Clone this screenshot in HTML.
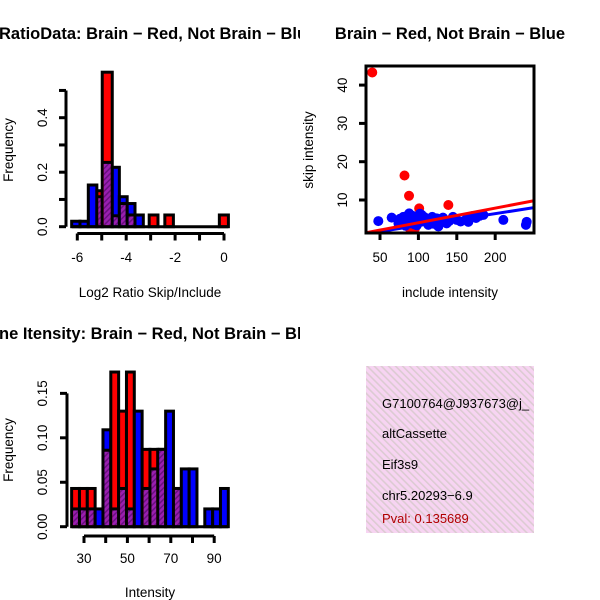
<!DOCTYPE html>
<html><head><meta charset="utf-8"><style>
html,body{margin:0;padding:0;background:#fff}
svg{display:block;font-family:"Liberation Sans",sans-serif}
</style></head><body>
<svg id="s" width="600" height="600" xmlns="http://www.w3.org/2000/svg">
<defs>
<pattern id="hatch" width="4" height="4" patternUnits="userSpaceOnUse" patternTransform="rotate(45)">
<rect width="4" height="4" fill="#9a1fb0"/><rect width="1.5" height="4" fill="#6a1080"/></pattern>
<pattern id="pink" width="5" height="5" patternUnits="userSpaceOnUse" patternTransform="rotate(-45)">
<rect width="5" height="5" fill="#f7d4f2"/><rect width="1.6" height="5" fill="#dccbd2"/></pattern>
<clipPath id="c1"><rect x="0" y="0" width="300" height="300"/></clipPath>
<clipPath id="c3"><rect x="0" y="300" width="300" height="300"/></clipPath>
<clipPath id="c2"><rect x="366" y="66" width="168" height="167"/></clipPath>
<clipPath id="c4"><rect x="366" y="366" width="168" height="167"/></clipPath>
</defs>
<g id="p1"></g>
<g id="p2"></g>
<g id="p3"></g>
<g id="p4">
<rect x="366" y="366" width="168" height="167" fill="url(#pink)"/>
<g clip-path="url(#c4)" font-size="13">
<text x="382" y="408">G7100764@J937673@j_</text>
<text x="382" y="438">altCassette</text>
<text x="382" y="469">Eif3s9</text>
<text x="382" y="500">chr5.20293−6.9</text>
<text x="382" y="523" fill="#b00000">Pval: 0.135689</text>
</g></g>
</svg>
<script>
// Histogram 1 data: bin edges (log2 ratio) and frequencies
const h1Edges=[-6.23,-5.89,-5.55,-5.20,-4.98,-4.57,-4.28,-3.96,-3.64,-3.30,-3.06,-2.70,-2.42,-2.07,-0.19,0.18];
const h1Red=[0,0,0,0.132,0.567,0.04,0.085,0.043,0,0,0.043,0,0.043,0,0.043];
const h1Blue=[0.02,0.02,0.153,0.11,0.236,0.218,0.11,0.085,0.043,0,0,0,0,0,0];
const h1XTicks=[-6,-5,-4,-3,-2,-1,0];
const h1XLabels=["-6","","-4","","-2","","0"];
const h1YTicks=[0,0.1,0.2,0.3,0.4,0.5];
const h1YLabels=["0.0","","0.2","","0.4",""];
// Histogram 3 data
const h3Start=24.3, h3Width=3.61;
const h3Red=[0.043,0.043,0.043,0,0.086,0.174,0.13,0.174,0,0.087,0.087,0.087,0,0.043,0,0,0,0,0,0];
const h3Blue=[0.02,0.02,0.02,0.02,0.109,0.02,0.043,0.02,0.13,0.043,0.065,0.087,0.13,0.043,0.065,0.065,0,0.02,0.02,0.043];
const h3XTicks=[30,40,50,60,70,80,90];
const h3XLabels=["30","","50","","70","","90"];
const h3YTicks=[0,0.05,0.10,0.15];
const h3YLabels=["0.00","0.05","0.10","0.15"];
// Scatter data
const redX=[39.9,81.9,87.8,101,139,95.5,88];
const redY=[43.3,16.4,11.1,7.8,8.7,2.6,2.8];
const blueX=[47.8,65.2,80.3,86.8,93.4,104.3,110.8,123.8,136.8,149.9,162.9,184.6,210.6,241,240,74,128,165,100,90,82,95,115,140,155,175,120,105,85,78,88,92,98,108,113,118,132,145,170,180,83,76,96,102,126];
const blueY=[4.5,5.4,5.6,6.1,5.2,6.1,4.3,5.2,3.9,4.8,5.2,6.1,4.8,4.3,3.5,3.9,4.3,4.3,4.3,4.3,4.8,3.6,5.0,4.5,4.4,5.3,3.8,4.9,5.8,4.6,6.5,5.9,3.4,5.5,3.5,5.6,5.4,5.6,5.8,5.9,3.3,5.1,4.0,6.4,3.1];
const redLine=[31.8,1.45,250.5,9.8];
const blueLine=[31.8,1.2,250.5,8.0];
const scXTicks=[50,100,150,200];
const scYTicks=[10,20,30,40];

const NS="http://www.w3.org/2000/svg";
const FS=13.5, TFS=16.5;
function mk(p,t,a){const e=document.createElementNS(NS,t);for(const k in a)e.setAttribute(k,a[k]);p.appendChild(e);return e;}
function measure(str){const s=document.getElementById('s');const t=mk(s,'text',{'font-size':TFS,'font-weight':'bold'});t.textContent=str;const w=t.getComputedTextLength();s.removeChild(t);return w;}

function hist(g,bins,red,blue,sx,sy,name){
  bins.forEach((b,i)=>{
    const x0=sx(b[0]),x1=sx(b[1]);const r=red[i],bl=blue[i];
    if(r===0&&bl===0)return;
    const hi=Math.max(r,bl),lo=Math.min(r,bl);
    const top=mk(g,'rect',{x:x0,y:sy(hi),width:x1-x0,height:sy(0)-sy(hi),fill:r>bl?'#ff0000':'#0000ff',stroke:'#000','stroke-width':3});
    
    
    if(lo>0){const p=mk(g,'rect',{x:x0+1.5,y:sy(lo),width:x1-x0-3,height:sy(0)-sy(lo)-1.5,fill:'url(#hatch)'});
      
      
      mk(g,'line',{x1:x0,x2:x1,y1:sy(lo),y2:sy(lo),stroke:'#000','stroke-width':3});}
  });
}
function axes(g,xt,xl,yt,yl,sx,sy,xAxY,yAxX,tl_y,ytlx){
  mk(g,'line',{x1:sx(xt[0]),x2:sx(xt[xt.length-1]),y1:xAxY,y2:xAxY,stroke:'#000','stroke-width':3});
  xt.forEach((v,i)=>{mk(g,'line',{x1:sx(v),x2:sx(v),y1:xAxY,y2:xAxY+7,stroke:'#000','stroke-width':3});
    if(xl[i]){const t=mk(g,'text',{x:sx(v),y:tl_y,'text-anchor':'middle','font-size':FS});t.textContent=xl[i];
      }});
  mk(g,'line',{x1:yAxX,x2:yAxX,y1:sy(yt[0]),y2:sy(yt[yt.length-1]),stroke:'#000','stroke-width':3});
  yt.forEach((v,i)=>{mk(g,'line',{x1:yAxX-7,x2:yAxX,y1:sy(v),y2:sy(v),stroke:'#000','stroke-width':3});
    if(yl[i]){const t=mk(g,'text',{x:ytlx,y:sy(v),'text-anchor':'middle','font-size':FS,transform:`rotate(-90 ${ytlx} ${sy(v)})`});t.textContent=yl[i];
      }});
}
// Panel 1
{const g=document.getElementById('p1');
 const sx=v=>77.3+(v+6)*24.45, sy=v=>226.7-v*272.5;
 const bins=h1Edges.slice(0,-1).map((e,i)=>[e,h1Edges[i+1]]);
 hist(g,bins,h1Red,h1Blue,sx,sy,'ratio');
 mk(g,'line',{x1:sx(-6.23),x2:sx(0.18),y1:226.7,y2:226.7,stroke:'#000','stroke-width':3});
 axes(g,h1XTicks,h1XLabels,h1YTicks,h1YLabels,sx,sy,233.5,66,262,47);
 const t=mk(g,'text',{x:-measure('Log')-1,y:39,'font-size':TFS,'font-weight':'bold','clip-path':'url(#c1)'});t.textContent='LogRatioData: Brain − Red, Not Brain − Blue';
 
 const xl=mk(g,'text',{x:150,y:297,'text-anchor':'middle','font-size':FS});xl.textContent='Log2 Ratio Skip/Include';
 
 const yl=mk(g,'text',{x:13,y:150,'text-anchor':'middle','font-size':FS,transform:'rotate(-90 13 150)'});yl.textContent='Frequency';
 }
// Panel 3
{const g=document.getElementById('p3');
 const sx=v=>84+(v-30)*2.17, sy=v=>526.7-v*888.9;
 const bins=h3Red.map((_,i)=>[h3Start+i*h3Width,h3Start+(i+1)*h3Width]);
 hist(g,bins,h3Red,h3Blue,sx,sy,'intensity');
 mk(g,'line',{x1:sx(h3Start),x2:sx(h3Start+20*h3Width),y1:526.7,y2:526.7,stroke:'#000','stroke-width':3});
 axes(g,h3XTicks,h3XLabels,h3YTicks,h3YLabels,sx,sy,536,67,563,47);
 const t=mk(g,'text',{x:-measure('Ge')-1,y:339,'font-size':TFS,'font-weight':'bold','clip-path':'url(#c3)'});t.textContent='Gene Itensity: Brain − Red, Not Brain − Blue';
 
 const xl=mk(g,'text',{x:150,y:597,'text-anchor':'middle','font-size':FS});xl.textContent='Intensity';
 
 const yl=mk(g,'text',{x:13,y:450,'text-anchor':'middle','font-size':FS,transform:'rotate(-90 13 450)'});yl.textContent='Frequency';
 }
// Panel 2
{const g=document.getElementById('p2');
 const sx=v=>380+(v-50)*0.768, sy=v=>238.3-v*3.83;
 const pg=mk(g,'g',{'clip-path':'url(#c2)'});
 redX.forEach((x,i)=>{const c=mk(pg,'circle',{cx:sx(x),cy:sy(redY[i]),r:5,fill:'#ff0000'});
   });
 blueX.forEach((x,i)=>{const c=mk(pg,'circle',{cx:sx(x),cy:sy(blueY[i]),r:5,fill:'#0000ff'});
   });
 const bl=mk(pg,'line',{x1:sx(blueLine[0]),y1:sy(blueLine[1]),x2:sx(blueLine[2]),y2:sy(blueLine[3]),stroke:'#0000ff','stroke-width':3});
 
 const rl=mk(pg,'line',{x1:sx(redLine[0]),y1:sy(redLine[1]),x2:sx(redLine[2]),y2:sy(redLine[3]),stroke:'#ff0000','stroke-width':3});
 
 mk(g,'rect',{x:366,y:66,width:168,height:167,fill:'none',stroke:'#000','stroke-width':3});
 scXTicks.forEach(v=>{mk(g,'line',{x1:sx(v),x2:sx(v),y1:233,y2:240,stroke:'#000','stroke-width':3});
   const t=mk(g,'text',{x:sx(v),y:262,'text-anchor':'middle','font-size':FS});t.textContent=v;
   });
 scYTicks.forEach(v=>{mk(g,'line',{x1:359,x2:366,y1:sy(v),y2:sy(v),stroke:'#000','stroke-width':3});
   const t=mk(g,'text',{x:347,y:sy(v),'text-anchor':'middle','font-size':FS,transform:`rotate(-90 347 ${sy(v)})`});t.textContent=v;
   });
 const t=mk(g,'text',{x:450,y:39,'text-anchor':'middle','font-size':TFS,'font-weight':'bold'});t.textContent='Brain − Red, Not Brain − Blue';
 
 const xl=mk(g,'text',{x:450,y:297,'text-anchor':'middle','font-size':FS});xl.textContent='include intensity';
 
 const yl=mk(g,'text',{x:313,y:150,'text-anchor':'middle','font-size':FS,transform:'rotate(-90 313 150)'});yl.textContent='skip intensity';
 }
</script>
</body></html>
